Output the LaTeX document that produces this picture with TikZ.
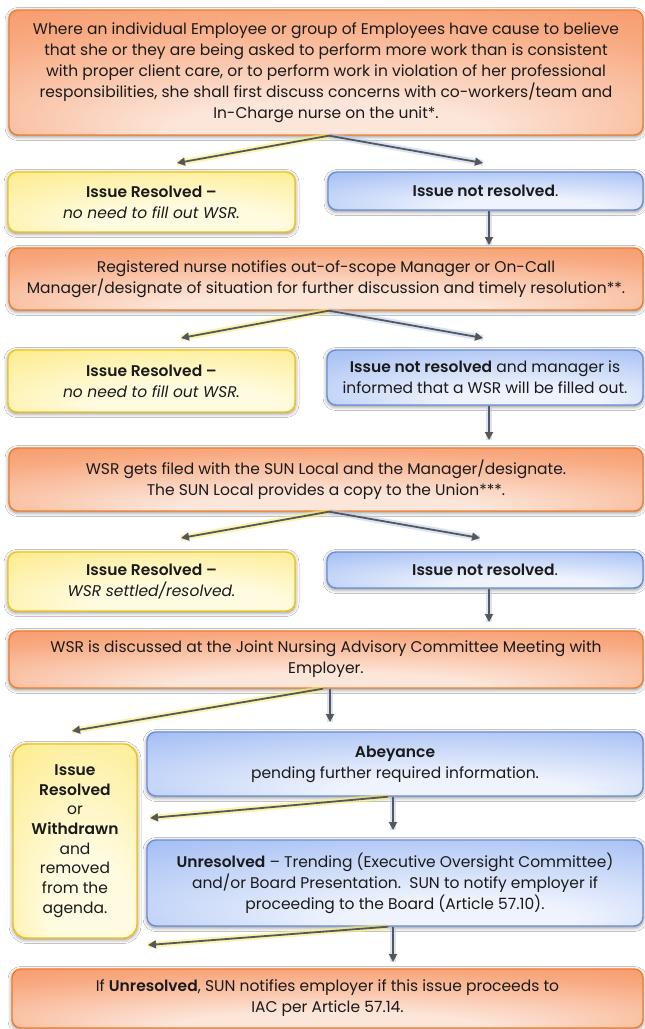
\documentclass[tikz,border=0pt]{standalone}
\usepackage{fontspec}
\setmainfont{Poppins}[BoldFont={Poppins SemiBold},BoldItalicFont={Poppins SemiBold Italic}]
\usetikzlibrary{arrows.meta,shadows.blur,calc}
\definecolor{orD}{HTML}{F4864F}
\definecolor{orM}{HTML}{F8A980}
\definecolor{orL}{HTML}{FCE6DA}
\definecolor{orB}{HTML}{F07E2A}
\definecolor{bD}{HTML}{7FA3EF}
\definecolor{bM}{HTML}{AFC6F5}
\definecolor{bL}{HTML}{EEF3FD}
\definecolor{bB}{HTML}{6A8FD6}
\definecolor{yD}{HTML}{FBE352}
\definecolor{yM}{HTML}{FDEE98}
\definecolor{yL}{HTML}{FFFBE0}
\definecolor{yB}{HTML}{F3C414}
\definecolor{txt}{HTML}{1A1A1A}
\definecolor{arr}{HTML}{575757}
\definecolor{glowY}{HTML}{F6EE7A}
\definecolor{glowB}{HTML}{B4C8F2}
\pgfdeclareradialshading{orglow}{\pgfpoint{0bp}{-30bp}}{color(0bp)=(orL); color(12bp)=(orL); color(34bp)=(orM); color(56bp)=(orD)}
\pgfdeclareradialshading{blglow}{\pgfpoint{8bp}{-26bp}}{color(0bp)=(bL); color(12bp)=(bL); color(38bp)=(bM); color(62bp)=(bD)}
\pgfdeclareradialshading{yeglow}{\pgfpoint{8bp}{-26bp}}{color(0bp)=(yL); color(16bp)=(yL); color(40bp)=(yM); color(64bp)=(yD)}
\begin{document}
\begin{tikzpicture}[x=1pt,y=-1pt,
  box/.style={rounded corners=9pt, line width=1.4pt, inner sep=0pt, align=center,
    text=txt, font=\fontsize{15.5}{21}\selectfont,
    blur shadow={shadow xshift=0pt, shadow yshift=-1.5pt, shadow blur radius=4pt, shadow opacity=50}},
  obox/.style={box, draw=orB, shading=orglow},
  bbox/.style={box, draw=bB, shading=blglow},
  ybox/.style={box, draw=yB, shading=yeglow},
  garrow/.style={draw=arr, line width=1.8pt, -{Triangle[length=8pt,width=8pt]}},
  yglow/.style={preaction={draw=glowY, line width=6pt, opacity=0.6, -}},
  bglow/.style={preaction={draw=glowB, line width=6pt, opacity=0.5, -}}]
\useasboundingbox (0,0) rectangle (645,1029);
\fill[white] (0,0) rectangle (645,1029);

% boxes
\node[obox, minimum width=634pt, minimum height=125pt] (O1) at (326,72.5)
 {Where an individual Employee or group of Employees have cause to believe\\
  that she or they are being asked to perform more work than is consistent\\
  with proper client care, or to perform work in violation of her professional\\
  responsibilities, she shall first discuss concerns with co-workers/team and\\
  In-Charge nurse on the unit*.};
\node[ybox, minimum width=287pt, minimum height=60pt] (Y1) at (151.5,202)
 {\textbf{Issue Resolved –}\\ \textit{no need to fill out WSR.}};
\node[bbox, minimum width=315pt, minimum height=38pt] (B1) at (485.5,191)
 {\textbf{Issue not resolved}.};
\node[obox, minimum width=634pt, minimum height=62pt] (O2) at (326,279)
 {Registered nurse notifies out-of-scope Manager or On-Call\\
  Manager/designate of situation for further discussion and timely resolution**.};
\node[ybox, minimum width=287pt, minimum height=62pt] (Y2) at (151.5,381)
 {\textbf{Issue Resolved –}\\ \textit{no need to fill out WSR.}};
\node[bbox, minimum width=316pt, minimum height=55pt] (B2) at (485,377.5)
 {\textbf{Issue not resolved} and manager is\\ informed that a WSR will be filled out.};
\node[obox, minimum width=634pt, minimum height=63pt] (O3) at (326,479.5)
 {WSR gets filed with the SUN Local and the Manager/designate.\\
  The SUN Local provides a copy to the Union***.};
\node[ybox, minimum width=287pt, minimum height=59pt] (Y3) at (151.5,581.5)
 {\textbf{Issue Resolved –}\\ \textit{WSR settled/resolved.}};
\node[bbox, minimum width=316pt, minimum height=36pt] (B3) at (485,570)
 {\textbf{Issue not resolved}.};
\node[obox, minimum width=634pt, minimum height=57pt] (O4) at (326,659.5)
 {WSR is discussed at the Joint Nursing Advisory Committee Meeting with\\ Employer.};
\node[ybox, rounded corners=14pt, minimum width=124pt, minimum height=194pt,
      font=\fontsize{15.5}{19.7}\selectfont] (Y4) at (75,841)
 {\textbf{Issue}\\ \textbf{Resolved}\\ or\\ \textbf{Withdrawn}\\ and\\ removed\\ from the\\ agenda.};
\node[bbox, minimum width=496pt, minimum height=64pt] (Ab) at (395,764)
 {\textbf{Abeyance}\\ pending further required information.};
\node[bbox, minimum width=496pt, minimum height=86pt] (U) at (395,883)
 {\textbf{Unresolved} – Trending (Executive Oversight Committee)\\
  and/or Board Presentation.\ \ SUN to notify employer if\\
  proceeding to the Board (Article 57.10).};
\node[obox, minimum width=631pt, minimum height=59pt] (O5) at (327.5,998.5)
 {If \textbf{Unresolved}, SUN notifies employer if this issue proceeds to\\ IAC per Article 57.14.};

% free ends of connectors
\coordinate (e1l) at (177,163);
\coordinate (e1r) at (483,163);
\coordinate (e1d) at (489,245);
\coordinate (e2l) at (181,338);
\coordinate (e2r) at (483,338);
\coordinate (e2d) at (489,440);
\coordinate (e3l) at (181,538);
\coordinate (e3r) at (480,538);
\coordinate (e3d) at (489,622);
\coordinate (e4l) at (72,731);
\coordinate (e4d) at (330,722);
\coordinate (e5l) at (150,818);
\coordinate (e5d) at (393,830);
\coordinate (e6l) at (148,945);
\coordinate (e6d) at (393,962);

% connectors
\draw[garrow, yglow] ([xshift=3pt]O1.south) -- (e1l);
\draw[garrow, bglow] ([xshift=3pt]O1.south) -- (e1r);
\draw[garrow, bglow] ([xshift=3.5pt]B1.south) -- (e1d);
\draw[garrow, yglow] ([xshift=3pt]O2.south) -- (e2l);
\draw[garrow, bglow] ([xshift=3pt]O2.south) -- (e2r);
\draw[garrow, bglow] ([xshift=4pt]B2.south) -- (e2d);
\draw[garrow, yglow] ([xshift=3pt]O3.south) -- (e3l);
\draw[garrow, bglow] ([xshift=3pt]O3.south) -- (e3r);
\draw[garrow, bglow] ([xshift=4pt]B3.south) -- (e3d);
\draw[garrow, yglow] ([xshift=-3pt]O4.south) -- (e4l);
\draw[garrow, bglow] ([xshift=4pt]O4.south) -- (e4d);
\draw[garrow, yglow] ([xshift=-7pt]Ab.south) -- (e5l);
\draw[garrow, bglow] ([xshift=-2pt]Ab.south) -- (e5d);
\draw[garrow, yglow] ([xshift=-7pt]U.south) -- (e6l);
\draw[garrow, bglow] ([xshift=-2pt]U.south) -- (e6d);
\end{tikzpicture}
\end{document}
